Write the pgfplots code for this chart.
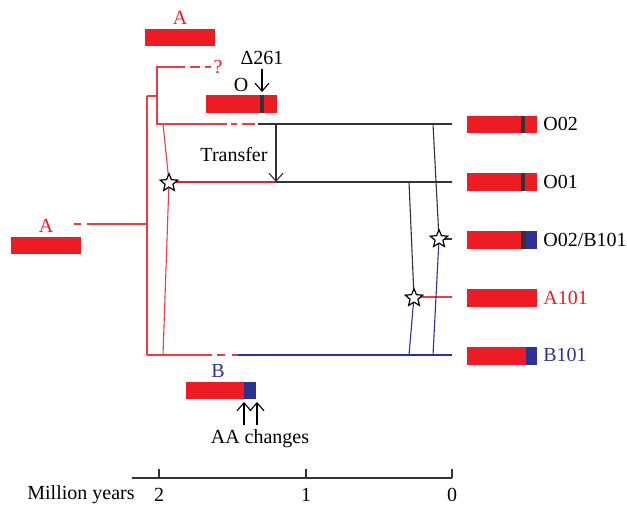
\documentclass[border=0pt]{standalone}
\usepackage{pgfplots}
\pgfplotsset{compat=1.18}
\usepackage{fontspec}
\setmainfont{Liberation Serif}
\usetikzlibrary{arrows.meta}
\definecolor{cred}{HTML}{ED1C24}
\definecolor{lred}{HTML}{EE3A42}
\definecolor{cblue}{HTML}{2E3192}
\definecolor{cdark}{HTML}{333333}
% open five-pointed star
\pgfdeclareplotmark{fivestar}{%
  \pgfpathmoveto{\pgfpointpolar{90}{\pgfplotmarksize}}%
  \pgfpathlineto{\pgfpointpolar{126}{0.45\pgfplotmarksize}}%
  \pgfpathlineto{\pgfpointpolar{162}{\pgfplotmarksize}}%
  \pgfpathlineto{\pgfpointpolar{198}{0.45\pgfplotmarksize}}%
  \pgfpathlineto{\pgfpointpolar{234}{\pgfplotmarksize}}%
  \pgfpathlineto{\pgfpointpolar{270}{0.45\pgfplotmarksize}}%
  \pgfpathlineto{\pgfpointpolar{306}{\pgfplotmarksize}}%
  \pgfpathlineto{\pgfpointpolar{342}{0.45\pgfplotmarksize}}%
  \pgfpathlineto{\pgfpointpolar{18}{\pgfplotmarksize}}%
  \pgfpathlineto{\pgfpointpolar{54}{0.45\pgfplotmarksize}}%
  \pgfpathclose
  \pgfusepathqfillstroke}
\begin{document}
\begin{tikzpicture}
\begin{axis}[
    scale only axis,
    width=313.5pt, height=253pt,
    xmin=0, xmax=627, ymin=0, ymax=506,
    y dir=reverse,
    hide axis, clip=false,
    every axis plot/.append style={line width=0.55pt},
    every node/.style={font=\fontsize{10.3}{12}\selectfont},
]
% ---- gene bars
\addplot[fill=cred, draw=none] coordinates {(145,29) (215,29) (215,46) (145,46)} -- cycle; % A top
\addplot[fill=cred, draw=none] coordinates {(11,237) (81,237) (81,254) (11,254)} -- cycle; % A left
\addplot[fill=cred, draw=none] coordinates {(206,95) (277,95) (277,113) (206,113)} -- cycle; % O
\addplot[fill=cdark, draw=none] coordinates {(260,95) (264,95) (264,113) (260,113)} -- cycle;
\addplot[fill=cred, draw=none] coordinates {(186,382) (244,382) (244,399) (186,399)} -- cycle; % B
\addplot[fill=cblue, draw=none] coordinates {(244,382) (256,382) (256,399) (244,399)} -- cycle;
% right-hand bars
\addplot[fill=cred, draw=none] coordinates {(467,116) (537,116) (537,133) (467,133)} -- cycle; % O02
\addplot[fill=cdark, draw=none] coordinates {(521,116) (525,116) (525,133) (521,133)} -- cycle;
\addplot[fill=cred, draw=none] coordinates {(467,173) (537,173) (537,191) (467,191)} -- cycle; % O01
\addplot[fill=cdark, draw=none] coordinates {(521,173) (525,173) (525,191) (521,191)} -- cycle;
\addplot[fill=cred, draw=none] coordinates {(467,231) (521,231) (521,249) (467,249)} -- cycle; % O02/B101
\addplot[fill=cdark, draw=none] coordinates {(521,231) (526,231) (526,249) (521,249)} -- cycle;
\addplot[fill=cblue, draw=none] coordinates {(526,231) (537,231) (537,249) (526,249)} -- cycle;
\addplot[fill=cred, draw=none] coordinates {(467,289) (537,289) (537,307) (467,307)} -- cycle; % A101
\addplot[fill=cred, draw=none] coordinates {(467,347) (526,347) (526,365) (467,365)} -- cycle; % B101
\addplot[fill=cblue, draw=none] coordinates {(526,347) (537,347) (537,365) (526,365)} -- cycle;

% ---- tree: red part
\addplot[lred] coordinates {(74,224) (81,224)};
\addplot[lred] coordinates {(87,224) (147,224)};
\addplot[lred] coordinates {(147,96) (147,355)};
\addplot[lred] coordinates {(147,96) (157,96)};
\addplot[lred] coordinates {(185,67) (157,67) (157,124) (227,124)};
\addplot[lred] coordinates {(190,67) (200,67)};
\addplot[lred] coordinates {(205,67) (211,67)};
\addplot[lred] coordinates {(231,124) (237,124)};
\addplot[lred] coordinates {(242,124) (255,124)};
\addplot[lred] coordinates {(163,124) (169,182) (163,355)};
\addplot[cred] coordinates {(169,182) (276,182)};
\addplot[lred] coordinates {(147,355) (212,355)};
\addplot[lred] coordinates {(217,355) (225,355)};
\addplot[lred] coordinates {(232,355) (238,355)};
\addplot[lred] coordinates {(414,297) (452,297)};
% black part
\addplot[cdark] coordinates {(258,124) (452,124)};
\addplot[cdark] coordinates {(276,182) (452,182)};
\addplot[cdark] coordinates {(439,239) (452,239)};
\addplot[cdark] coordinates {(433,124) (439,239)};
\addplot[cdark] coordinates {(409,182) (414,297)};
% blue part
\addplot[cblue] coordinates {(238,355) (452,355)};
\addplot[cblue] coordinates {(439,239) (433,355)};
\addplot[cblue] coordinates {(414,297) (409,355)};
% transfer arrow and mutation arrows
\addplot[cdark, -{Straight Barb[length=4pt,width=7pt]}] coordinates {(276,124) (276,182)};
\addplot[black, -{Straight Barb[length=4pt,width=7pt]}] coordinates {(262,69) (262,92)};
\addplot[black, -{Straight Barb[length=4pt,width=7pt]}] coordinates {(244,425) (244,402)};
\addplot[black, -{Straight Barb[length=4pt,width=7pt]}] coordinates {(257,425) (257,402)};
% stars
\addplot[only marks, mark=fivestar, mark size=4.6pt, mark options={fill=white, draw=black, line width=0.6pt}]
  coordinates {(169,183) (439,239) (414,298)};

% ---- time scale
\addplot[cdark] coordinates {(132,478) (452,478)};
\addplot[cdark] coordinates {(159,469) (159,478)};
\addplot[cdark] coordinates {(306,469) (306,478)};
\addplot[cdark] coordinates {(452,469) (452,478)};

% ---- text
\node[text=cred] at (axis cs:180,18) {A};
\node[text=cred] at (axis cs:46,226) {A};
\node[text=cred] at (axis cs:218,67) {?};
\node at (axis cs:262,58) {Δ261};
\node at (axis cs:241,85) {O};
\node at (axis cs:234,155) {Transfer};
\node[text=cblue] at (axis cs:218,371) {B};
\node at (axis cs:260,439) {AA changes};
\node[anchor=west, inner sep=0pt] at (axis cs:543,124) {O02};
\node[anchor=west, inner sep=0pt] at (axis cs:543,182) {O01};
\node[anchor=west, inner sep=0pt] at (axis cs:543,240) {O02/B101};
\node[anchor=west, inner sep=0pt, text=cred] at (axis cs:543,298) {A101};
\node[anchor=west, inner sep=0pt, text=cblue] at (axis cs:543,355) {B101};
\node at (axis cs:81,495) {Million years};
\node at (axis cs:159,495) {2};
\node at (axis cs:306,495) {1};
\node at (axis cs:452,495) {0};
\coordinate (ll) at (rel axis cs:0,0);
\coordinate (ur) at (rel axis cs:1,1);
\end{axis}
\pgfresetboundingbox
\useasboundingbox (ll) rectangle (ur);
\end{tikzpicture}
\end{document}
